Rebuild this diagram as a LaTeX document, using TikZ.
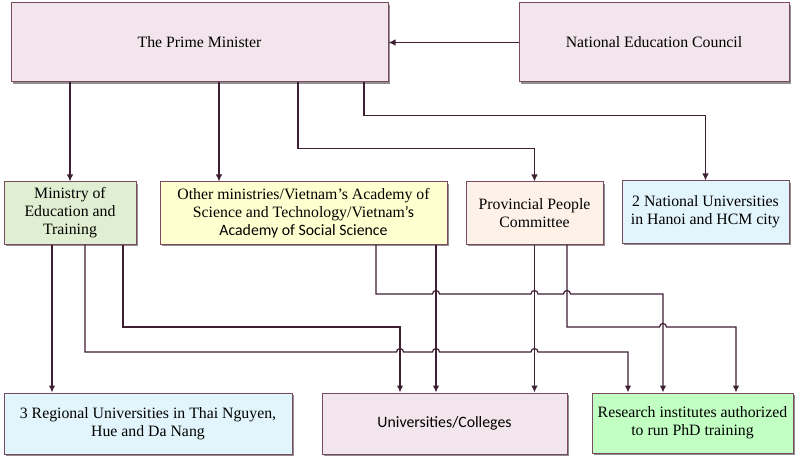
\documentclass[tikz,border=0pt]{standalone}
\usepackage{fontspec}
\setmainfont{Liberation Serif}
\newfontfamily\calibrifont{Carlito}
\usetikzlibrary{arrows.meta,shadows,calc}

\definecolor{linecol}{HTML}{3E1F32}
\definecolor{edgecol}{HTML}{7A4A60}
\definecolor{pinkbox}{HTML}{F2E5EB}
\definecolor{greenbox}{HTML}{E0EFD2}
\definecolor{yellowbox}{HTML}{FFFFD0}
\definecolor{peachbox}{HTML}{FDF1E8}
\definecolor{bluebox}{HTML}{E3F5FC}
\definecolor{limebox}{HTML}{C2FFC2}

\tikzset{
  unit/.style={draw=edgecol, line width=1pt, align=center, inner sep=2pt,
    font=\fontsize{15.8}{18}\selectfont,
    drop shadow={shadow xshift=2pt, shadow yshift=-2pt, fill=black!55, opacity=.8}},
  arr/.style={draw=linecol, line width=1.2pt, -{Latex[length=7pt,width=6.5pt]}},
}
% a small hop where a line crosses another one
\newcommand{\hop}[2]{-- ($(#1 |- #2)+(-3.5pt,0)$) arc[start angle=180,end angle=0,radius=3.5pt]}

\begin{document}
\begin{tikzpicture}[x=1pt,y=1pt]
    \useasboundingbox (0,0) rectangle (795,-457);
    % top row:
    \node[unit, fill=pinkbox, minimum width=377pt, minimum height=79pt] (pm) at (199.5,-42.5) {The Prime Minister};
    \node[unit, fill=pinkbox, minimum width=270pt, minimum height=79pt] (nec) at (654,-42.5) {National Education Council};
    % middle row:
    \node[unit, fill=greenbox, minimum width=132pt, minimum height=62pt] (moet) at (70,-213) {Ministry of\\Education and\\Training};
    \node[unit, fill=yellowbox, minimum width=287pt, minimum height=62pt] (other) at (303.5,-213) {Other ministries/Vietnam’s Academy of\\Science and Technology/Vietnam{\calibrifont ’s}\\{\calibrifont Academy of Social Science}};
    \node[unit, fill=peachbox, minimum width=137pt, minimum height=62pt] (ppc) at (534.5,-213) {Provincial People\\Committee};
    \node[unit, fill=bluebox, minimum width=167pt, minimum height=62pt] (vnu) at (705.5,-212) {2 National Universities\\in Hanoi and HCM city};
    % bottom row:
    \node[unit, fill=bluebox, minimum width=288pt, minimum height=61pt] (reg) at (148,-423.5) {3 Regional Universities in Thai Nguyen,\\Hue and Da Nang};
    \node[unit, fill=pinkbox, minimum width=245pt, minimum height=61pt] (uni) at (444.5,-423.5) {\calibrifont Universities/Colleges};
    \node[unit, fill=limebox, minimum width=201pt, minimum height=60pt] (res) at (692.5,-423) {Research institutes authorized\\to run PhD training};

    % from the top:
    \draw[arr] (nec.west) -- (pm.east);
    \coordinate (o0) at ([xshift=-84.5pt]other.north);
    \draw[arr] (pm.south -| moet.north) -- (moet.north);
    \draw[arr] (pm.south -| o0) -- (o0);
    \draw[arr] ([xshift=98.5pt]pm.south) -- ++(0,-66) -| (ppc.north);
    \draw[arr] ([xshift=164.5pt]pm.south) -- ++(0,-33) -| (vnu.north);

    % to the bottom:
    \coordinate (m1) at ([xshift=-18pt]moet.south);
    \coordinate (m2) at ([xshift=15pt]moet.south);
    \coordinate (m3) at ([xshift=53pt]moet.south);
    \coordinate (o1) at ([xshift=72.5pt]other.south);
    \coordinate (o2) at ([xshift=132.5pt]other.south);
    \coordinate (p2) at ([xshift=32.5pt]ppc.south);
    \coordinate (u1) at ([xshift=-44.5pt]uni.north);
    \coordinate (u2) at ([xshift=-8.5pt]uni.north);
    \coordinate (u3) at ([xshift=90pt]uni.north);
    \coordinate (r1) at ([xshift=-64.5pt]res.north);
    \coordinate (r2) at ([xshift=-29.5pt]res.north);
    \coordinate (r3) at ([xshift=43.5pt]res.north);
    \coordinate (lvA) at (0,-294);
    \coordinate (lvB) at (0,-327);
    \coordinate (lvC) at (0,-352);
    \draw[arr] (m1) -- (m1 |- reg.north);
    \draw[arr] (m3) |- (u1 |- lvB) -- (u1);
    \draw[arr] (m2) -- (m2 |- lvC) \hop{u1}{lvC} \hop{u2}{lvC} \hop{u3}{lvC} -| (r1);
    \draw[arr] (o1) -- (o1 |- lvA) \hop{u2}{lvA} \hop{u3}{lvA} \hop{p2}{lvA} -| (r2);
    \draw[arr] (o2) -- (u2);
    \draw[arr] (ppc.south) -- (u3);
    \draw[arr] (p2) -- (p2 |- lvB) \hop{r2}{lvB} -| (r3);
\end{tikzpicture}
\end{document}
